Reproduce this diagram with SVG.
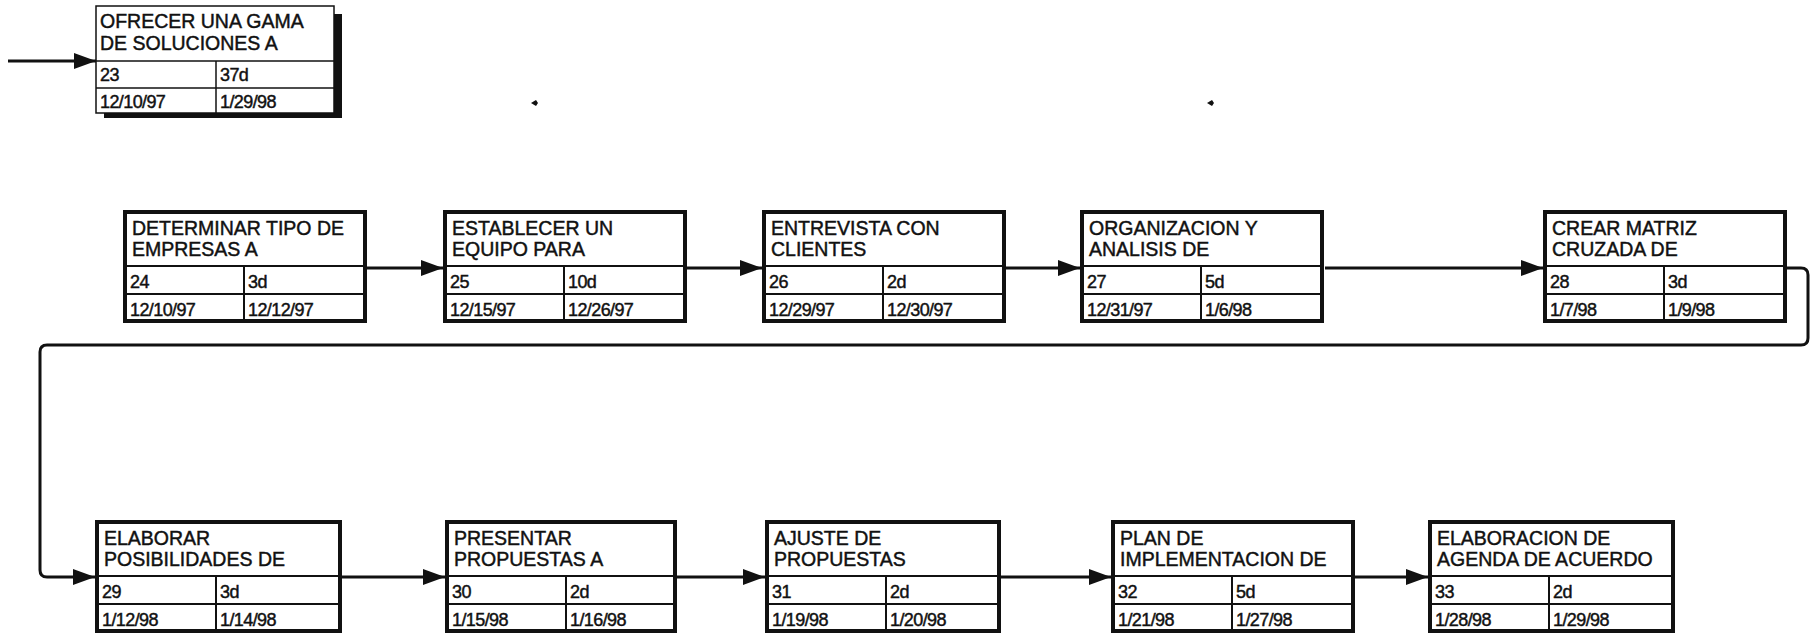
<svg xmlns="http://www.w3.org/2000/svg" width="1811" height="636" viewBox="0 0 1811 636">
<style>
.frame{fill:#fff;stroke:#111;stroke-width:4}
.thin{fill:#fff;stroke:#111;stroke-width:1.5}
.div{stroke:#111;stroke-width:2}
.shadow{fill:#111}
.t{font-family:"Liberation Sans",Arial,sans-serif;font-size:19.5px;fill:#111;stroke:#111;stroke-width:0.45}
.d{font-family:"Liberation Sans",Arial,sans-serif;font-size:18px;fill:#111;stroke:#111;stroke-width:0.45;letter-spacing:-0.6px}
.conn{fill:none;stroke:#111;stroke-width:3}
</style>
<defs>
<marker id="ah" markerUnits="userSpaceOnUse" markerWidth="24" markerHeight="20" refX="22" refY="9" orient="auto">
<path d="M0,1 L22,9 L0,17 Z" fill="#111"/>
</marker>
<g id="box">
<rect class="frame" x="2" y="2" width="240" height="109"/>
<line class="div" x1="2" y1="56" x2="242" y2="56"/>
<line class="div" x1="2" y1="84" x2="242" y2="84"/>
<line class="div" x1="121" y1="56" x2="121" y2="111"/>
</g>
</defs>
<rect width="1811" height="636" fill="#fff"/>
<g id="connectors">
<path class="conn" d="M8,61 H96" marker-end="url(#ah)"/>
<path class="conn" d="M367,268 H443" marker-end="url(#ah)"/>
<path class="conn" d="M687,268 H762" marker-end="url(#ah)"/>
<path class="conn" d="M1006,268 H1080" marker-end="url(#ah)"/>
<path class="conn" d="M1325,268 H1543" marker-end="url(#ah)"/>
<path class="conn" d="M1787,268 H1801 Q1808,268 1808,275 V338 Q1808,345 1801,345 H47 Q40,345 40,352 V570 Q40,577 47,577 H95" marker-end="url(#ah)"/>
<path class="conn" d="M342,577 H445" marker-end="url(#ah)"/>
<path class="conn" d="M677,577 H765" marker-end="url(#ah)"/>
<path class="conn" d="M1001,577 H1111" marker-end="url(#ah)"/>
<path class="conn" d="M1355,577 H1428" marker-end="url(#ah)"/>
</g>
<path d="M531,103 L536,100 L538,103 L536,106 Z" fill="#111"/>
<path d="M1207,103 L1212,100 L1214,103 L1212,106 Z" fill="#111"/>
<g id="n23" transform="translate(96,6)">
<rect class="shadow" x="8" y="8" width="238" height="104"/>
<rect class="thin" x="0" y="0" width="238" height="107"/>
<line class="div" x1="0" y1="55" x2="238" y2="55" style="stroke-width:1.5"/>
<line class="div" x1="0" y1="82" x2="238" y2="82" style="stroke-width:1.5"/>
<line class="div" x1="120" y1="55" x2="120" y2="107" style="stroke-width:1.5"/>
<text class="t" x="4" y="22">OFRECER UNA GAMA</text>
<text class="t" x="4" y="44">DE SOLUCIONES A</text>
<text class="d" x="4" y="75">23</text>
<text class="d" x="124" y="75">37d</text>
<text class="d" x="4" y="102">12/10/97</text>
<text class="d" x="124" y="102">1/29/98</text>
</g>
<g id="n24" transform="translate(123,210)">
<use href="#box"/>
<text class="t" x="9" y="25">DETERMINAR TIPO DE</text>
<text class="t" x="9" y="46">EMPRESAS A</text>
<text class="d" x="7" y="78">24</text>
<text class="d" x="125" y="78">3d</text>
<text class="d" x="7" y="106">12/10/97</text>
<text class="d" x="125" y="106">12/12/97</text>
</g>
<g id="n25" transform="translate(443,210)">
<use href="#box"/>
<text class="t" x="9" y="25">ESTABLECER UN</text>
<text class="t" x="9" y="46">EQUIPO PARA</text>
<text class="d" x="7" y="78">25</text>
<text class="d" x="125" y="78">10d</text>
<text class="d" x="7" y="106">12/15/97</text>
<text class="d" x="125" y="106">12/26/97</text>
</g>
<g id="n26" transform="translate(762,210)">
<use href="#box"/>
<text class="t" x="9" y="25">ENTREVISTA CON</text>
<text class="t" x="9" y="46">CLIENTES</text>
<text class="d" x="7" y="78">26</text>
<text class="d" x="125" y="78">2d</text>
<text class="d" x="7" y="106">12/29/97</text>
<text class="d" x="125" y="106">12/30/97</text>
</g>
<g id="n27" transform="translate(1080,210)">
<use href="#box"/>
<text class="t" x="9" y="25">ORGANIZACION Y</text>
<text class="t" x="9" y="46">ANALISIS DE</text>
<text class="d" x="7" y="78">27</text>
<text class="d" x="125" y="78">5d</text>
<text class="d" x="7" y="106">12/31/97</text>
<text class="d" x="125" y="106">1/6/98</text>
</g>
<g id="n28" transform="translate(1543,210)">
<use href="#box"/>
<text class="t" x="9" y="25">CREAR MATRIZ</text>
<text class="t" x="9" y="46">CRUZADA DE</text>
<text class="d" x="7" y="78">28</text>
<text class="d" x="125" y="78">3d</text>
<text class="d" x="7" y="106">1/7/98</text>
<text class="d" x="125" y="106">1/9/98</text>
</g>
<g id="n29" transform="translate(95,520)">
<rect class="frame" x="2" y="2" width="243" height="109"/>
<line class="div" x1="2" y1="56" x2="245" y2="56"/>
<line class="div" x1="2" y1="84" x2="245" y2="84"/>
<line class="div" x1="121" y1="56" x2="121" y2="111"/>
<text class="t" x="9" y="25">ELABORAR</text>
<text class="t" x="9" y="46">POSIBILIDADES DE</text>
<text class="d" x="7" y="78">29</text>
<text class="d" x="125" y="78">3d</text>
<text class="d" x="7" y="106">1/12/98</text>
<text class="d" x="125" y="106">1/14/98</text>
</g>
<g id="n30" transform="translate(445,520)">
<rect class="frame" x="2" y="2" width="228" height="109"/>
<line class="div" x1="2" y1="56" x2="230" y2="56"/>
<line class="div" x1="2" y1="84" x2="230" y2="84"/>
<line class="div" x1="121" y1="56" x2="121" y2="111"/>
<text class="t" x="9" y="25">PRESENTAR</text>
<text class="t" x="9" y="46">PROPUESTAS A</text>
<text class="d" x="7" y="78">30</text>
<text class="d" x="125" y="78">2d</text>
<text class="d" x="7" y="106">1/15/98</text>
<text class="d" x="125" y="106">1/16/98</text>
</g>
<g id="n31" transform="translate(765,520)">
<rect class="frame" x="2" y="2" width="232" height="109"/>
<line class="div" x1="2" y1="56" x2="234" y2="56"/>
<line class="div" x1="2" y1="84" x2="234" y2="84"/>
<line class="div" x1="121" y1="56" x2="121" y2="111"/>
<text class="t" x="9" y="25">AJUSTE DE</text>
<text class="t" x="9" y="46">PROPUESTAS</text>
<text class="d" x="7" y="78">31</text>
<text class="d" x="125" y="78">2d</text>
<text class="d" x="7" y="106">1/19/98</text>
<text class="d" x="125" y="106">1/20/98</text>
</g>
<g id="n32" transform="translate(1111,520)">
<use href="#box"/>
<text class="t" x="9" y="25">PLAN DE</text>
<text class="t" x="9" y="46">IMPLEMENTACION DE</text>
<text class="d" x="7" y="78">32</text>
<text class="d" x="125" y="78">5d</text>
<text class="d" x="7" y="106">1/21/98</text>
<text class="d" x="125" y="106">1/27/98</text>
</g>
<g id="n33" transform="translate(1428,520)">
<rect class="frame" x="2" y="2" width="243" height="109"/>
<line class="div" x1="2" y1="56" x2="245" y2="56"/>
<line class="div" x1="2" y1="84" x2="245" y2="84"/>
<line class="div" x1="121" y1="56" x2="121" y2="111"/>
<text class="t" x="9" y="25">ELABORACION DE</text>
<text class="t" x="9" y="46">AGENDA DE ACUERDO</text>
<text class="d" x="7" y="78">33</text>
<text class="d" x="125" y="78">2d</text>
<text class="d" x="7" y="106">1/28/98</text>
<text class="d" x="125" y="106">1/29/98</text>
</g>
</svg>
